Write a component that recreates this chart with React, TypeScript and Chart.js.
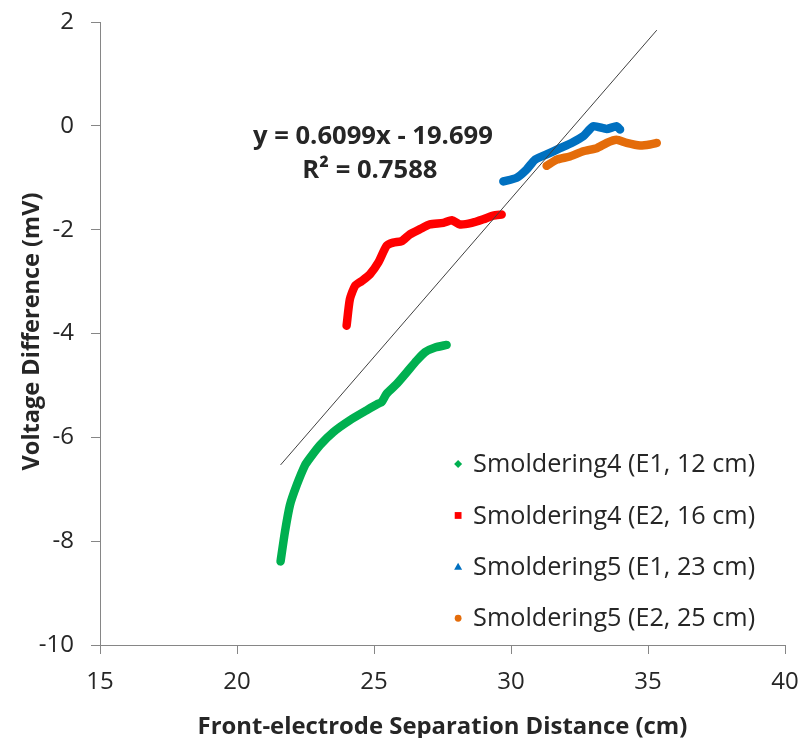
import React, { useEffect, useRef } from 'react';
import { Chart, registerables } from 'chart.js';

Chart.register(...registerables);

// ---- Data ----
const s4e1Label = 'Smoldering4 (E1, 12 cm)';
const s4e1X = [21.59, 21.75, 21.93, 22.18, 22.48, 22.66, 23.03, 23.51, 24.12, 24.73, 25.16, 25.28, 25.46, 25.83, 26.19, 26.56, 26.86, 27.23, 27.65];
const s4e1Y = [-8.39, -7.82, -7.31, -6.92, -6.54, -6.40, -6.15, -5.90, -5.67, -5.48, -5.35, -5.32, -5.16, -4.97, -4.75, -4.52, -4.36, -4.27, -4.22];

const s4e2Label = 'Smoldering4 (E2, 16 cm)';
const s4e2X = [24.00, 24.12, 24.31, 24.55, 24.85, 25.16, 25.46, 25.70, 26.01, 26.31, 26.68, 27.04, 27.53, 27.84, 28.14, 28.57, 28.99, 29.35, 29.66];
const s4e2Y = [-3.85, -3.34, -3.08, -2.99, -2.86, -2.63, -2.31, -2.25, -2.22, -2.09, -1.99, -1.90, -1.87, -1.82, -1.90, -1.87, -1.80, -1.73, -1.71];

const s5e1Label = 'Smoldering5 (E1, 23 cm)';
const s5e1X = [29.72, 30.21, 30.57, 30.88, 31.30, 31.79, 32.21, 32.64, 33.00, 33.49, 33.85, 33.98];
const s5e1Y = [-1.07, -1.00, -0.84, -0.65, -0.55, -0.43, -0.33, -0.20, -0.01, -0.06, -0.01, -0.07];

const s5e2Label = 'Smoldering5 (E2, 25 cm)';
const s5e2X = [31.30, 31.67, 32.15, 32.64, 33.13, 33.49, 33.85, 34.22, 34.71, 35.07, 35.32];
const s5e2Y = [-0.77, -0.65, -0.59, -0.49, -0.43, -0.33, -0.27, -0.33, -0.38, -0.36, -0.33];

// Linear trendline (from the equation printed on the chart)
const trendSlope = 0.6099;
const trendIntercept = -19.699;
const trendRangeX = [21.59, 35.32];
const equationText = 'y = 0.6099x - 19.699';
const r2Value = '0.7588';

const xTickValues = [15, 20, 25, 30, 35, 40];
const yTickValues = [-10, -8, -6, -4, -2, 0, 2];
const xTitle = 'Front-electrode Separation Distance (cm)';
const yTitle = 'Voltage Difference (mV)';

const COLORS = ['#00B050', '#FF0000', '#0070C0', '#E46C0A'];
const STYLES = ['rectRot', 'rect', 'triangle', 'circle'];
const FONT = "'Open Sans', Carlito, Calibri, sans-serif";
const TEXT_COLOR = '#262626';
const AXIS_COLOR = '#868686';

const toPoints = (xs: number[], ys: number[]) => xs.map((x, i) => ({ x, y: ys[i] }));

// choose a font size so that text spans the wanted width
function fitFont(ctx: CanvasRenderingContext2D, text: string, weight: string, width: number) {
  ctx.font = `${weight} 100px ${FONT}`;
  const w = ctx.measureText(text).width;
  const size = (100 * width) / w;
  ctx.font = `${weight} ${size.toFixed(2)}px ${FONT}`;
  return size;
}

function drawMarker(ctx: CanvasRenderingContext2D, style: string, x: number, y: number, r: number) {
  ctx.beginPath();
  if (style === 'rectRot') {
    ctx.moveTo(x, y - r);
    ctx.lineTo(x + r, y);
    ctx.lineTo(x, y + r);
    ctx.lineTo(x - r, y);
    ctx.closePath();
  } else if (style === 'rect') {
    ctx.rect(x - r * 0.85, y - r * 0.85, r * 1.7, r * 1.7);
  } else if (style === 'triangle') {
    ctx.moveTo(x, y - r);
    ctx.lineTo(x + r, y + r * 0.75);
    ctx.lineTo(x - r, y + r * 0.75);
    ctx.closePath();
  } else {
    ctx.arc(x, y, r * 0.85, 0, Math.PI * 2);
  }
  ctx.fill();
}

const overlayPlugin = {
  id: 'overlay',
  afterDraw(chart: any) {
    const ctx = chart.ctx as CanvasRenderingContext2D;
    const xs = chart.scales.x;
    const ys = chart.scales.y;
    const area = chart.chartArea;
    ctx.save();
    // Legend (inside plot, bottom-right)
    const labels = [s4e1Label, s4e2Label, s5e1Label, s5e2Label];
    const legendY0 = ys.getPixelForValue(-6.515);
    const step = 51.4;
    const mx = xs.getPixelForValue(28.07);
    ctx.textBaseline = 'middle';
    ctx.textAlign = 'left';
    fitFont(ctx, labels[0], 'normal', 282);
    labels.forEach((lab, i) => {
      const cy = legendY0 + i * step;
      ctx.fillStyle = COLORS[i];
      drawMarker(ctx, STYLES[i], mx, cy, 4);
      ctx.fillStyle = TEXT_COLOR;
      ctx.fillText(lab, mx + 15, cy + 1);
    });

    // Trendline equation
    const ex = xs.getPixelForValue(24.96);
    ctx.textAlign = 'center';
    ctx.textBaseline = 'middle';
    ctx.fillStyle = TEXT_COLOR;
    const eqSize = fitFont(ctx, equationText, 'bold', 240);
    ctx.fillText(equationText, ex, ys.getPixelForValue(-0.21));
    const rText = 'R² = ' + r2Value;
    ctx.font = `bold ${eqSize.toFixed(2)}px ${FONT}`;
    ctx.fillText(rText, ex - 3, ys.getPixelForValue(-0.86));

    // Axis titles
    ctx.textBaseline = 'alphabetic';
    fitFont(ctx, xTitle, 'bold', 490);
    ctx.fillText(xTitle, (area.left + area.right) / 2, 734);
    ctx.save();
    ctx.translate(39, (area.top + area.bottom) / 2 - 2);
    ctx.rotate(-Math.PI / 2);
    fitFont(ctx, yTitle, 'bold', 278);
    ctx.fillText(yTitle, 0, 0);
    ctx.restore();
    ctx.restore();
  },
};

export default function App() {
  const ref = useRef<HTMLCanvasElement | null>(null);
  useEffect(() => {
    document.body.style.margin = '0';
    const canvas = ref.current!;
    const lineDs = (label: string, xs: number[], ys: number[], i: number, order: number) => ({
      label,
      data: toPoints(xs, ys),
      showLine: true,
      borderColor: COLORS[i],
      backgroundColor: COLORS[i],
      borderWidth: 8.5,
      borderCapStyle: 'round' as const,
      borderJoinStyle: 'round' as const,
      pointRadius: 0,
      pointStyle: STYLES[i],
      tension: 0.2,
      order,
    });
    const axisCommon = {
      type: 'linear',
      grid: {
        display: true,
        drawOnChartArea: false,
        drawTicks: true,
        tickLength: 9,
        color: AXIS_COLOR,
      },
      border: { display: true, color: AXIS_COLOR, width: 1 },
    };
    const chart = new Chart(canvas, {
      type: 'scatter',
      data: {
        datasets: [
          {
            label: '',
            data: trendRangeX.map((x) => ({ x, y: trendSlope * x + trendIntercept })),
            showLine: true,
            borderColor: '#404040',
            borderWidth: 1,
            pointRadius: 0,
            order: 0,
          },
          lineDs(s4e1Label, s4e1X, s4e1Y, 0, 4),
          lineDs(s4e2Label, s4e2X, s4e2Y, 1, 3),
          lineDs(s5e1Label, s5e1X, s5e1Y, 2, 2),
          lineDs(s5e2Label, s5e2X, s5e2Y, 3, 1),
        ] as any,
      },
      options: {
        animation: false,
        responsive: false,
        maintainAspectRatio: false,
        layout: { padding: { top: 22, right: 16, left: 0, bottom: 0 } },
        plugins: {
          legend: { display: false },
          tooltip: { enabled: false },
        },
        scales: {
          x: {
            ...axisCommon,
            min: 15,
            max: 40,
            afterBuildTicks: (scale: any) => {
              scale.ticks = xTickValues.map((v) => ({ value: v }));
            },
            afterFit: (scale: any) => {
              scale.height = 93;
              scale.paddingLeft = 0;
              scale.paddingRight = 0;
            },
            ticks: {
              font: { family: FONT, size: 24 },
              color: TEXT_COLOR,
              padding: 14,
              maxRotation: 0,
            },
          },
          y: {
            ...axisCommon,
            min: -10,
            max: 2,
            afterBuildTicks: (scale: any) => {
              scale.ticks = yTickValues.map((v) => ({ value: v }));
            },
            afterFit: (scale: any) => {
              scale.width = 100;
              scale.paddingTop = 0;
              scale.paddingBottom = 0;
            },
            ticks: {
              font: { family: FONT, size: 24 },
              color: TEXT_COLOR,
              padding: 17,
            },
          },
        },
      } as any,
      plugins: [overlayPlugin],
    });
    return () => chart.destroy();
  }, []);
  return (
    <div style={{ width: 801, height: 738, background: '#fff' }}>
      <canvas ref={ref} width={801} height={738} style={{ display: 'block', width: 801, height: 738 }} />
    </div>
  );
}
